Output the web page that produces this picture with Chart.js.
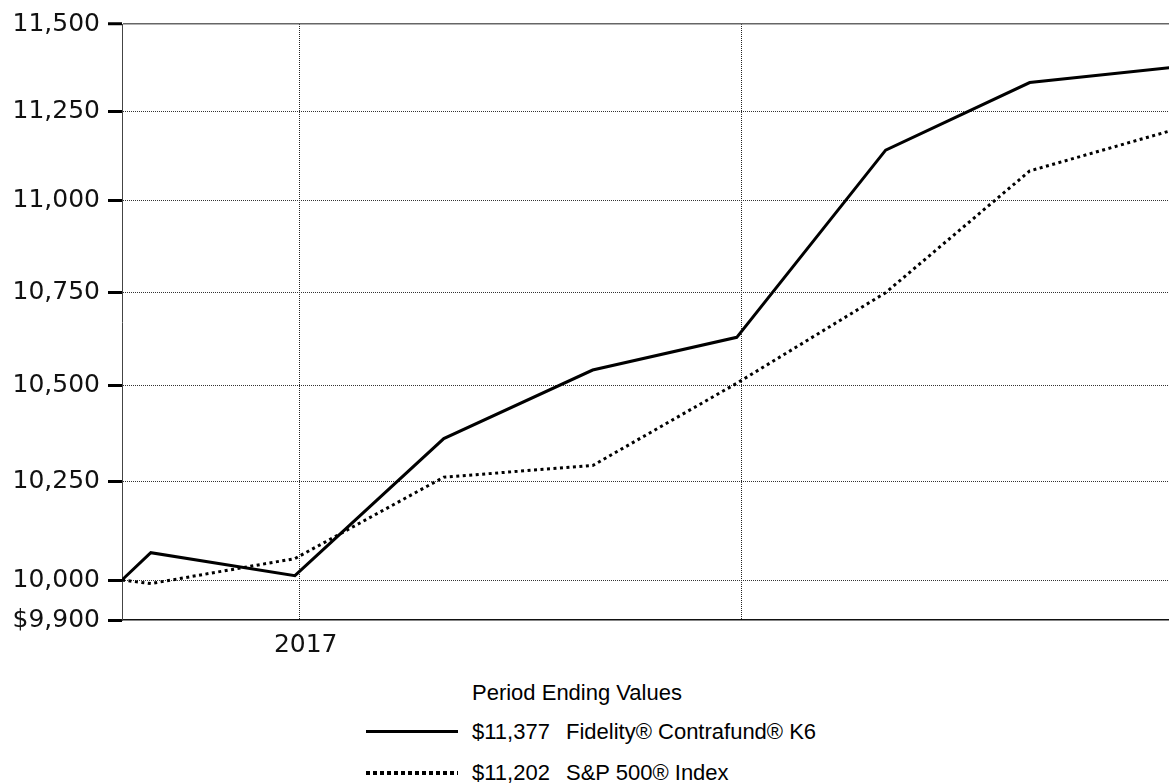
<!DOCTYPE html>
<html>
<head>
<meta charset="utf-8">
<script src="https://cdn.jsdelivr.net/npm/chart.js@4.4.1/dist/chart.umd.min.js"></script>
<style>
  html, body { margin: 0; padding: 0; background: #fff; }
  body { width: 1169px; height: 784px; position: relative; overflow: hidden; font-family: "Liberation Sans", Arial, sans-serif; }
  #chartBox { position: absolute; left: 0; top: 0; width: 1169px; height: 662px; }
  #legend { position: absolute; left: 366px; top: 675px; font-size: 22px; color: #000; }
  .legend-title { margin-left: 106px; height: 36px; line-height: 36px; }
  .legend-row { display: flex; align-items: center; height: 41px; }
  .swatch { width: 92px; margin-right: 14px; }
  .swatch.solid { height: 3px; background: #000; }
  .swatch.dotted { height: 4px; background: repeating-linear-gradient(to right, #000 0 4.5px, transparent 4.5px 7px); }
  .val { width: 94px; }
</style>
</head>
<body>
<div id="chartBox"><canvas id="growthChart"></canvas></div>
<div id="legend">
  <div class="legend-title">Period Ending Values</div>
</div>
<script>
// hypothetical $10,000 investment, month ends
const periodDates = ['2017-05-25', '2017-05-31', '2017-06-30', '2017-07-31', '2017-08-31',
                     '2017-09-30', '2017-10-31', '2017-11-30', '2017-12-31'];
const fundValues  = [10000, 10069, 10011, 10362, 10542, 10629, 11141, 11332, 11377];
const indexValues = [10000, 9991, 10054, 10262, 10292, 10507, 10749, 11083, 11202];
const seriesNames = ['Fidelity® Contrafund® K6', 'S&P 500® Index'];

const yTicks = [9900, 10000, 10250, 10500, 10750, 11000, 11250, 11500];
const xGridDates = ['2017-07-01', '2017-10-01'];
const xTickLabels = ['2017', ''];
const startDate = '2017-05-25';
const endDate = '2017-12-29';   // picture is cut at the right edge

function dayOf(s) {
    const a = s.split('-').map(Number);
    const b = startDate.split('-').map(Number);
    return (Date.UTC(a[0], a[1] - 1, a[2]) - Date.UTC(b[0], b[1] - 1, b[2])) / 86400000;
}

const axisFont = { family: '"DejaVu Sans", Verdana, sans-serif', size: 25 };

new Chart(document.getElementById('growthChart'), {
    type: 'line',
    data: {
        datasets: [
            {
                label: seriesNames[0],
                data: periodDates.map((d, i) => ({ x: dayOf(d), y: fundValues[i] })),
                borderColor: '#000',
                borderWidth: 3,
                pointRadius: 0,
                tension: 0,
                fill: false
            },
            {
                label: seriesNames[1],
                data: periodDates.map((d, i) => ({ x: dayOf(d), y: indexValues[i] })),
                borderColor: '#000',
                borderWidth: 3,
                borderDash: [3, 3.5],
                pointRadius: 0,
                tension: 0,
                fill: false
            }
        ]
    },
    options: {
        responsive: true,
        maintainAspectRatio: false,
        animation: false,
        layout: { padding: { top: 24, right: 0, bottom: 0, left: 0 } },
        plugins: { legend: { display: false }, tooltip: { enabled: false } },
        scales: {
            x: {
                type: 'linear',
                min: 0,
                max: dayOf(endDate),
                afterBuildTicks: s => { s.ticks = xGridDates.map(d => ({ value: dayOf(d) })); },
                afterFit: s => { s.height = 42; },
                grid: { color: '#222', lineWidth: 1, drawTicks: false },
                border: { display: true, color: '#111', width: 1.5, dash: [1, 1] },
                ticks: {
                    padding: 10,
                    color: '#111',
                    font: axisFont,
                    maxRotation: 0,
                    autoSkip: false,
                    labelOffset: 6,
                    callback: (v, i) => xTickLabels[i]
                }
            },
            y: {
                type: 'logarithmic',
                min: yTicks[0],
                max: yTicks[yTicks.length - 1],
                afterBuildTicks: s => { s.ticks = yTicks.map(v => ({ value: v })); },
                afterFit: s => { s.width = 122; },
                grid: {
                    color: ctx => ctx.index === 0 ? 'rgba(0,0,0,0)' : (ctx.index === yTicks.length - 1 ? '#666' : '#333'),
                    lineWidth: ctx => ctx.index === yTicks.length - 1 ? 1.5 : 1,
                    tickColor: '#000',
                    tickWidth: 3,
                    tickLength: 14,
                    tickBorderDash: []
                },
                border: {
                    display: true,
                    color: '#444',
                    width: 1,
                    dash: ctx => ctx.index === yTicks.length - 1 ? [] : [1, 1]
                },
                ticks: {
                    padding: 8,
                    color: '#111',
                    font: axisFont,
                    autoSkip: false,
                    callback: (v, i) => (i === 0 ? '$' : '') + Number(v).toLocaleString('en-US')
                }
            }
        }
    }
});

// legend below the plot
const legend = document.getElementById('legend');
[fundValues, indexValues].forEach((vals, i) => {
    const row = document.createElement('div');
    row.className = 'legend-row';
    row.innerHTML = '<div class="swatch ' + (i === 0 ? 'solid' : 'dotted') + '"></div>' +
        '<div class="val">$' + vals[vals.length - 1].toLocaleString('en-US') + '</div>' +
        '<div>' + seriesNames[i].replace('&', '&amp;') + '</div>';
    legend.appendChild(row);
});
</script>
</body>
</html>
